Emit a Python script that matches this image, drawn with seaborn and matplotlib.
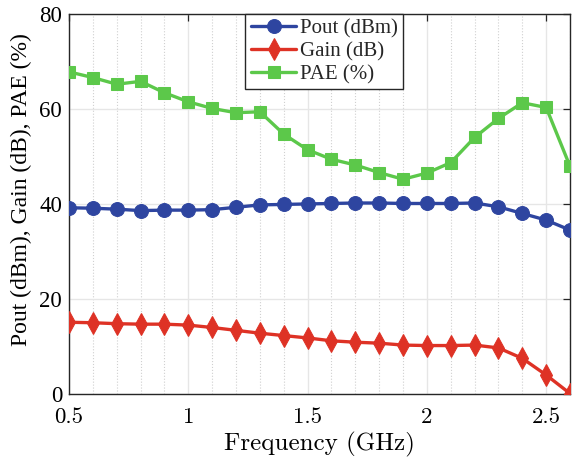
import numpy as np
import pandas as pd
import matplotlib
matplotlib.use('Agg')
import matplotlib.pyplot as plt
import seaborn as sns
from matplotlib.ticker import MultipleLocator

# Datos
freq = [0.5, 0.6, 0.7, 0.8, 0.9, 1.0, 1.1, 1.2, 1.3, 1.4, 1.5,
        1.6, 1.7, 1.8, 1.9, 2.0, 2.1, 2.2, 2.3, 2.4, 2.5, 2.6]
pout = [39.2, 39.1, 38.9, 38.6, 38.7, 38.7, 38.8, 39.3, 39.8, 39.9, 40.0,
        40.1, 40.2, 40.2, 40.1, 40.1, 40.1, 40.2, 39.4, 38.0, 36.6, 34.5]
gain = [15.1, 15.0, 14.8, 14.7, 14.7, 14.5, 14.0, 13.4, 12.8, 12.3, 11.8,
        11.2, 10.9, 10.7, 10.3, 10.2, 10.2, 10.3, 9.7, 7.5, 4.0, 0.1]
pae = [67.8, 66.6, 65.2, 65.8, 63.4, 61.5, 60.1, 59.2, 59.4, 54.7, 51.4,
       49.4, 48.2, 46.6, 45.2, 46.5, 48.7, 54.0, 58.0, 61.3, 60.3, 47.9]

xticks = [0.5, 1, 1.5, 2, 2.5]
xtick_labels = ['0.5', '1', '1.5', '2', '2.5']
yticks = [0, 20, 40, 60, 80]

series = ['Pout (dBm)', 'Gain (dB)', 'PAE (%)']
colores = ['#2e45a0', '#de3225', '#5cc84a']
marcadores = ['o', 'd', 's']
tamanos = [10, 11, 9]

df = pd.DataFrame({
    'freq': freq * 3,
    'valor': pout + gain + pae,
    'serie': [series[0]] * len(freq) + [series[1]] * len(freq) + [series[2]] * len(freq),
})

sns.set_theme(style='white')
plt.rcParams['font.family'] = ['Liberation Serif', 'DejaVu Serif']

times = ['Liberation Serif', 'DejaVu Serif']
cm = ['cmr10', 'DejaVu Serif']

fig = plt.figure(figsize=(5.72, 4.63), dpi=100)
ax = fig.add_axes([0.1206, 0.149, 0.876, 0.821])

for nombre, color, m, ms in zip(series, colores, marcadores, tamanos):
    sub = df[df['serie'] == nombre]
    sns.lineplot(data=sub, x='freq', y='valor', ax=ax, color=color, marker=m,
                 markersize=ms, markeredgecolor=color, linewidth=2.4,
                 label=nombre, zorder=3)

ax.set_xlim(0.5, 2.6)
ax.set_ylim(0, 80)
ax.xaxis.set_minor_locator(MultipleLocator(0.1))
ax.set_xticks(xticks)
ax.set_xticklabels(xtick_labels, family=cm, fontsize=16.5, color='black')
ax.set_yticks(yticks)
ax.set_yticklabels([str(v) for v in yticks], family=times, fontsize=16.5, color='black')

ax.grid(True, which='major', color='#e6e6e6', linewidth=1.0, linestyle='-')
ax.grid(True, which='minor', axis='x', color='#d0d0d0', linewidth=0.8, linestyle=':')
ax.set_axisbelow(True)

for s in ax.spines.values():
    s.set_color('#262626')
    s.set_linewidth(1.0)

ax.tick_params(axis='both', which='major', direction='in', length=5, width=0.9,
               top=True, right=True, colors='#262626')
ax.tick_params(axis='x', which='major', pad=9.5)
ax.tick_params(axis='y', which='major', pad=5)
ax.tick_params(axis='both', which='minor', length=0, top=True, right=True)
for lbl in ax.get_xticklabels() + ax.get_yticklabels():
    lbl.set_color('black')

ax.set_xlabel('Frequency (GHz)', family=cm, fontsize=18, color='black')
ax.xaxis.set_label_coords(0.5, -0.132)
ax.xaxis.label.set_va('center')
ax.set_ylabel('Pout (dBm), Gain (dB), PAE (%)', family=times, fontsize=17, color='black')
ax.yaxis.set_label_coords(-0.094, 0.537)
ax.yaxis.label.set_va('center')

leg = ax.legend(loc='upper center', bbox_to_anchor=(0.509, 1.0), borderaxespad=0,
                prop={'family': times, 'size': 15}, frameon=True, fancybox=False,
                handlelength=2.2, handletextpad=0.15, borderpad=0.25, labelspacing=0.15)
leg.get_frame().set_edgecolor('#262626')
leg.get_frame().set_linewidth(1.0)
leg.get_frame().set_alpha(1.0)

fig.savefig('out.png', dpi=100)
plt.close(fig)
